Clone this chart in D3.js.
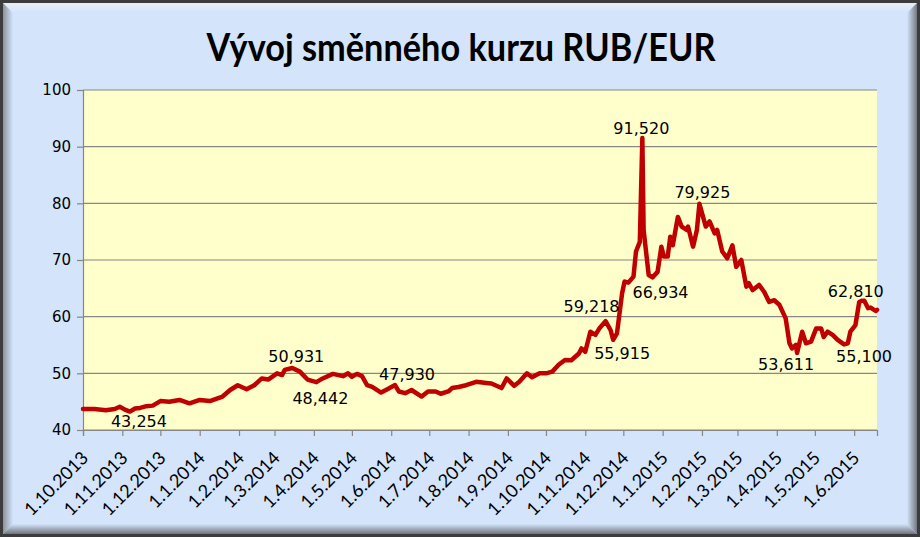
<!DOCTYPE html>
<html><head><meta charset="utf-8">
<script src="https://cdn.jsdelivr.net/npm/d3@7"></script>
<style>body{margin:0;background:#fff}svg{display:block}</style>
</head><body>
<svg id="chart" width="920" height="537"></svg>
<script>
const titleText = "Vývoj směnného kurzu RUB/EUR";
const dates = ["2013-10-01","2013-10-10","2013-10-19","2013-10-26","2013-10-30","2013-11-03","2013-11-07","2013-11-11","2013-11-15","2013-11-20","2013-11-25","2013-12-01","2013-12-08","2013-12-16","2013-12-24","2014-01-01","2014-01-09","2014-01-14","2014-01-19","2014-01-25","2014-01-31","2014-02-07","2014-02-13","2014-02-19","2014-02-24","2014-03-03","2014-03-07","2014-03-09","2014-03-15","2014-03-21","2014-03-27","2014-04-03","2014-04-08","2014-04-16","2014-04-24","2014-04-28","2014-05-01","2014-05-05","2014-05-09","2014-05-13","2014-05-17","2014-05-24","2014-05-29","2014-06-04","2014-06-07","2014-06-12","2014-06-17","2014-06-25","2014-06-30","2014-07-06","2014-07-10","2014-07-16","2014-07-19","2014-07-24","2014-07-30","2014-08-07","2014-08-15","2014-08-19","2014-08-27","2014-08-31","2014-09-06","2014-09-10","2014-09-16","2014-09-20","2014-09-26","2014-10-01","2014-10-06","2014-10-11","2014-10-16","2014-10-21","2014-10-27","2014-10-29","2014-11-01","2014-11-05","2014-11-09","2014-11-12","2014-11-17","2014-11-21","2014-11-23","2014-11-26","2014-11-30","2014-12-02","2014-12-05","2014-12-09","2014-12-11","2014-12-14","2014-12-16","2014-12-17","2014-12-21","2014-12-24","2014-12-28","2014-12-31","2015-01-02","2015-01-05","2015-01-07","2015-01-09","2015-01-13","2015-01-16","2015-01-20","2015-01-21","2015-01-25","2015-01-28","2015-01-30","2015-02-04","2015-02-07","2015-02-11","2015-02-13","2015-02-17","2015-02-21","2015-02-25","2015-02-28","2015-03-04","2015-03-08","2015-03-10","2015-03-13","2015-03-18","2015-03-22","2015-03-26","2015-03-30","2015-04-03","2015-04-08","2015-04-11","2015-04-13","2015-04-16","2015-04-17","2015-04-21","2015-04-24","2015-04-28","2015-05-02","2015-05-06","2015-05-08","2015-05-11","2015-05-15","2015-05-19","2015-05-24","2015-05-27","2015-05-29","2015-06-02","2015-06-05","2015-06-07","2015-06-09","2015-06-12","2015-06-14","2015-06-18","2015-06-19"];
const values = [43.7,43.7,43.5,43.7,44.1,43.6,43.254,43.8,43.9,44.2,44.3,45.1,45.0,45.3,44.7,45.3,45.1,45.5,45.9,47.06,47.9,47.2,47.9,49.1,48.9,50.0,49.7,50.6,50.931,50.3,48.9,48.442,49.1,49.9,49.5,50.0,49.4,49.9,49.5,47.9,47.6,46.6,47.2,47.93,46.8,46.5,47.06,45.9,46.8,46.8,46.4,46.8,47.4,47.6,47.9,48.5,48.3,48.2,47.4,49.1,47.8,48.5,50.0,49.3,50.0,50.0,50.3,51.5,52.35,52.3,53.5,54.4,53.8,57.35,56.8,57.9,59.218,57.6,55.915,57.06,64.1,66.2,66.0,67.06,71.5,73.2,91.52,75.3,67.35,66.934,67.9,72.35,70.6,70.6,74.1,72.6,77.6,75.9,75.3,75.9,72.35,75.3,79.925,75.9,76.8,74.7,75.3,71.5,70.3,72.6,68.8,70.0,65.3,65.9,64.7,65.6,64.4,62.6,62.9,62.1,59.7,55.3,54.4,55.0,53.611,57.35,55.3,55.6,57.9,57.9,56.4,57.35,56.8,55.9,55.1,55.3,57.35,58.5,62.6,62.81,62.8,61.5,61.6,61.0,61.2];
const yTicks = [40,50,60,70,80,90,100];
const xTickDates = ["2013-10-01","2013-11-01","2013-12-01","2014-01-01","2014-02-01","2014-03-01","2014-04-01","2014-05-01","2014-06-01","2014-07-01","2014-08-01","2014-09-01","2014-10-01","2014-11-01","2014-12-01","2015-01-01","2015-02-01","2015-03-01","2015-04-01","2015-05-01","2015-06-01"];
const labelDates = ["2013-11-07","2014-03-15","2014-04-03","2014-06-04","2014-11-17","2014-11-23","2014-12-16","2014-12-24","2015-01-30","2015-04-17","2015-06-07","2015-05-24"];
const labelValues = [43.254,50.931,48.442,47.930,59.218,55.915,91.520,66.934,79.925,53.611,62.810,55.100];

const W = 920, H = 537;
const M = {left:83, right:43, top:90, bottom:107};
const parse = d3.timeParse("%Y-%m-%d");
const svg = d3.select("#chart");
const defs = svg.append("defs");

// frame
svg.append("rect").attr("width",W).attr("height",H).attr("fill","#3c3c3c");
svg.append("rect").attr("x",3).attr("y",3).attr("width",W-6).attr("height",H-6).attr("fill","#d3e4fb");
function grad(id,x1,y1,x2,y2,c1,c2){
  const g=defs.append("linearGradient").attr("id",id).attr("x1",x1).attr("y1",y1).attr("x2",x2).attr("y2",y2);
  g.append("stop").attr("offset","0").attr("stop-color",c1);
  g.append("stop").attr("offset","1").attr("stop-color",c2);
}
grad("gT",0,0,0,1,"#e8eef6","#d3e4fb");
grad("gL",0,0,1,0,"#8d9299","#d3e4fb");
grad("gB",0,1,0,0,"#6f747a","#d3e4fb");
grad("gR",1,0,0,0,"#74797f","#d3e4fb");
const b=10, o=3;
svg.append("polygon").attr("points",`${o},${o} ${W-o},${o} ${W-o-b},${o+b} ${o+b},${o+b}`).attr("fill","url(#gT)");
svg.append("polygon").attr("points",`${o},${o} ${o+b},${o+b} ${o+b},${H-o-b} ${o},${H-o}`).attr("fill","url(#gL)");
svg.append("polygon").attr("points",`${o},${H-o} ${o+b},${H-o-b} ${W-o-b},${H-o-b} ${W-o},${H-o}`).attr("fill","url(#gB)");
svg.append("polygon").attr("points",`${W-o},${o} ${W-o},${H-o} ${W-o-b},${H-o-b} ${W-o-b},${o+b}`).attr("fill","url(#gR)");

// title
svg.append("text").attr("x",461).attr("y",61).attr("text-anchor","middle")
  .attr("font-family","Lato, 'Open Sans', sans-serif").attr("font-weight","bold")
  .attr("font-size",38).attr("textLength",509).attr("lengthAdjust","spacingAndGlyphs")
  .attr("fill","#000").text(titleText);

const x = d3.scaleTime().domain([parse("2013-10-01"), parse("2015-06-19")]).range([M.left, W-M.right]);
const y = d3.scaleLinear().domain([40,100]).range([H-M.bottom, M.top]);

// plot area
svg.append("rect").attr("x",M.left).attr("y",M.top).attr("width",W-M.right-M.left).attr("height",H-M.bottom-M.top).attr("fill","#ffffcc");

// grid
svg.append("g").selectAll("line").data(yTicks).join("line")
  .attr("x1",M.left).attr("x2",W-M.right).attr("y1",d=>y(d)).attr("y2",d=>y(d))
  .attr("stroke","#868686").attr("stroke-width",1.2);

// y axis
const yAxis = svg.append("g").attr("transform",`translate(${M.left},0)`)
  .call(d3.axisLeft(y).tickValues(yTicks).tickSize(6).tickPadding(6).tickFormat(d3.format("d")));
yAxis.select(".domain").attr("stroke","#868686").attr("stroke-width",1.2);
yAxis.selectAll(".tick line").attr("stroke","#868686").attr("stroke-width",1.2);
yAxis.selectAll("text").attr("font-family","'DejaVu Sans', Verdana, sans-serif").attr("font-size",15).attr("fill","#000");

// x axis
const fmtDate = d => `${d.getDate()}.${d.getMonth()+1}.${d.getFullYear()}`;
const xAxis = svg.append("g").attr("transform",`translate(0,${H-M.bottom})`)
  .call(d3.axisBottom(x).tickValues(xTickDates.map(parse)).tickSize(6).tickFormat(fmtDate));
xAxis.select(".domain").attr("stroke","#868686").attr("stroke-width",1.2);
xAxis.selectAll(".tick line").attr("stroke","#868686").attr("stroke-width",1.2);
xAxis.selectAll("text")
  .attr("font-family","Lato, 'Open Sans', sans-serif").attr("font-size",18).attr("fill","#000")
  .attr("text-anchor","end").attr("dy",null).attr("y",null)
  .attr("transform","translate(6,29) rotate(-45)");

// line
const pts = dates.map((d,i)=>({date:parse(d), value:values[i]}));
svg.append("path").datum(pts)
  .attr("d", d3.line().x(d=>x(d.date)).y(d=>y(d.value)))
  .attr("fill","none").attr("stroke","#c00000").attr("stroke-width",4.5)
  .attr("stroke-linejoin","round").attr("stroke-linecap","round");

// data labels
const cz = d3.formatLocale({decimal:",", thousands:" ", grouping:[3], currency:["","Kč"]});
const fmtVal = cz.format(".3f");
const offs = [[9,15],[4,-6],[4,22],[12,-5],[-14,-9],[9,19],[-1,-4],[8,21],[3,-5.5],[-11,17],[-6,-3.5],[20,18]];
svg.append("g").selectAll("text").data(labelDates.map((d,i)=>({date:parse(d), value:labelValues[i], off:offs[i]})))
  .join("text")
  .attr("x",d=>x(d.date)+d.off[0]).attr("y",d=>y(d.value)+d.off[1])
  .attr("text-anchor","middle")
  .attr("font-family","'DejaVu Sans', Verdana, sans-serif").attr("font-size",16).attr("fill","#000")
  .text(d=>fmtVal(d.value));
</script>
</body></html>
